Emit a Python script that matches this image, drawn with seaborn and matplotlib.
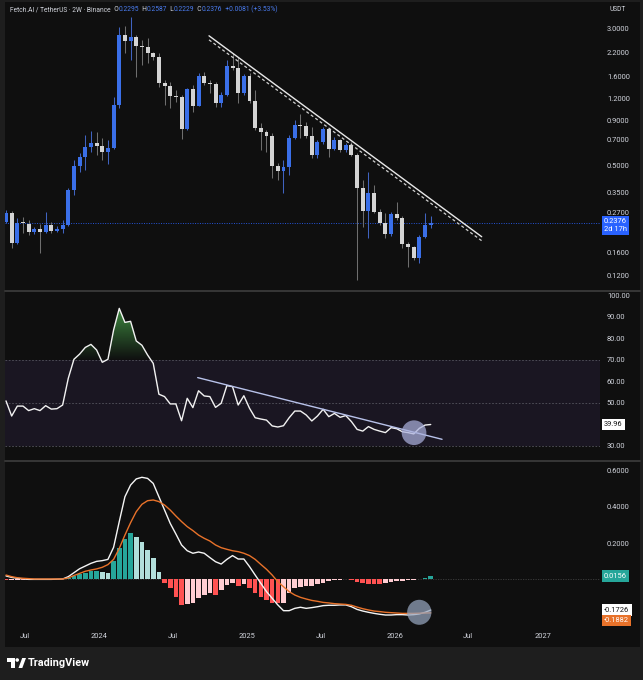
import numpy as np
import pandas as pd
import matplotlib
matplotlib.use("Agg")
import matplotlib.pyplot as plt
import matplotlib.transforms as mtransforms
from matplotlib.patches import Rectangle, Ellipse, PathPatch, Polygon, Circle
from matplotlib.lines import Line2D
from matplotlib.path import Path
from matplotlib.ticker import FixedLocator, NullLocator, FuncFormatter
import seaborn as sns

# ---------------- data ----------------
first_bar = "2023-05-15"
bar_days = 14

open_ = [0.241, 0.271, 0.183, 0.2387, 0.2335, 0.2095, 0.2179, 0.2095, 0.2305, 0.2139,
         0.2179, 0.2305, 0.3639, 0.4975, 0.557, 0.6345, 0.6687, 0.648, 0.5995, 0.629,
         1.0987, 2.75, 2.552, 2.668, 2.391, 2.341, 2.182, 2.054, 1.464, 1.413,
         1.241, 1.229, 0.806, 1.359, 1.093, 1.611, 1.464, 1.454, 1.128, 1.257,
         1.834, 1.793, 1.285, 1.611, 1.162, 0.814, 0.779, 0.739, 0.4995, 0.466,
         0.493, 0.7147, 0.85, 0.839, 0.736, 0.574, 0.678, 0.806, 0.62, 0.699,
         0.615, 0.654, 0.574, 0.375, 0.2778, 0.3485, 0.2742, 0.2357, 0.2041, 0.265,
         0.2515, 0.180, 0.1737, 0.1493, 0.1962, 0.2295]
high = [0.280, 0.275, 0.2525, 0.2568, 0.246, 0.2245, 0.2325, 0.2719, 0.2406, 0.2275,
        0.246, 0.3733, 0.538, 0.587, 0.746, 0.7857, 0.772, 0.7147, 0.699, 1.219,
        3.063, 3.09, 3.48, 2.75, 2.575, 2.633, 2.211, 2.165, 1.528, 1.494,
        1.341, 1.257, 1.377, 1.432, 1.674, 1.703, 1.528, 1.494, 1.306, 1.984,
        2.165, 2.07, 1.653, 1.674, 1.341, 0.869, 0.796, 0.767, 0.515, 0.538,
        0.746, 0.907, 0.977, 0.887, 0.831, 0.699, 0.831, 0.82, 0.726, 0.71,
        0.672, 0.678, 0.589, 0.4146, 0.4616, 0.3884, 0.284, 0.2686, 0.2747, 0.3123,
        0.259, 0.1851, 0.176, 0.2023, 0.2686, 0.2587]
low = [0.236, 0.171, 0.180, 0.2069, 0.2023, 0.205, 0.1605, 0.2075, 0.2069, 0.210,
       0.2069, 0.2275, 0.3408, 0.4616, 0.472, 0.5995, 0.574, 0.538, 0.5106, 0.621,
       1.056, 2.165, 1.984, 1.596, 1.858, 1.90, 1.984, 1.40, 1.103, 1.056,
       1.151, 0.705, 0.796, 1.010, 1.088, 1.432, 1.285, 1.079, 1.079, 1.241,
       1.741, 1.128, 1.257, 1.133, 0.796, 0.613, 0.5995, 0.424, 0.4146, 0.3485,
       0.442, 0.708, 0.7147, 0.715, 0.550, 0.551, 0.663, 0.561, 0.61, 0.597,
       0.597, 0.565, 0.113, 0.2255, 0.1938, 0.27, 0.2305, 0.1938, 0.1997, 0.246,
       0.170, 0.1338, 0.146, 0.140, 0.1946, 0.2229]
close = [0.271, 0.183, 0.2357, 0.2357, 0.2095, 0.2187, 0.2095, 0.2305, 0.2139, 0.2187,
         0.2305, 0.3639, 0.4975, 0.557, 0.6345, 0.6687, 0.648, 0.5995, 0.629, 1.0987,
         2.75, 2.552, 2.668, 2.391, 2.341, 2.182, 2.054, 1.464, 1.413, 1.241,
         1.229, 0.806, 1.359, 1.093, 1.611, 1.464, 1.454, 1.128, 1.257, 1.834,
         1.793, 1.285, 1.611, 1.162, 0.814, 0.779, 0.739, 0.4995, 0.466, 0.493,
         0.7147, 0.85, 0.839, 0.736, 0.574, 0.678, 0.806, 0.62, 0.699, 0.615,
         0.654, 0.574, 0.375, 0.2778, 0.3485, 0.2742, 0.2357, 0.2041, 0.265, 0.2515,
         0.180, 0.1737, 0.1493, 0.1962, 0.2295, 0.2376]

rsi = [50.9, 43.9, 48.5, 48.5, 46.4, 47.3, 46.4, 48.7, 47.1, 47.3,
       49.0, 61.4, 70.2, 72.6, 75.7, 77.1, 74.5, 68.8, 70.2, 83.8,
       93.8, 87.3, 87.8, 78.7, 76.7, 72.2, 68.3, 54.0, 52.9, 49.5,
       49.5, 41.7, 52.1, 47.8, 55.6, 53.2, 52.9, 47.9, 49.8, 58.0,
       57.5, 49.0, 53.3, 47.5, 43.1, 42.5, 42.0, 39.3, 38.8, 39.4,
       43.1, 46.2, 46.2, 44.4, 41.6, 43.9, 47.0, 43.6, 45.1, 43.3,
       44.1, 41.3, 37.7, 36.9, 39.0, 37.7, 36.9, 36.2, 38.5, 38.0,
       36.6, 36.2, 35.6, 38.2, 39.7, 39.96]

macd = [0.017, 0.009, 0.004, 0.000, -0.002, -0.002, -0.002, -0.002, -0.002, -0.001,
        0.000, 0.013, 0.035, 0.057, 0.072, 0.087, 0.098, 0.102, 0.109, 0.176,
        0.319, 0.457, 0.522, 0.556, 0.565, 0.559, 0.531, 0.457, 0.383, 0.309,
        0.250, 0.189, 0.157, 0.143, 0.150, 0.143, 0.119, 0.096, 0.083, 0.109,
        0.130, 0.111, 0.111, 0.069, 0.022, -0.024, -0.070, -0.107, -0.144, -0.176,
        -0.176, -0.163, -0.157, -0.163, -0.159, -0.154, -0.148, -0.146, -0.146, -0.144,
        -0.144, -0.154, -0.169, -0.178, -0.185, -0.191, -0.196, -0.200, -0.200, -0.198,
        -0.198, -0.200, -0.198, -0.194, -0.185, -0.1726]
signal = [0.022, 0.013, 0.007, 0.004, 0.002, 0.000, 0.000, 0.000, 0.000, 0.000,
          0.000, 0.006, 0.019, 0.031, 0.043, 0.050, 0.056, 0.065, 0.080, 0.109,
          0.170, 0.244, 0.313, 0.374, 0.415, 0.435, 0.439, 0.430, 0.411, 0.383,
          0.350, 0.319, 0.291, 0.269, 0.244, 0.226, 0.211, 0.189, 0.174, 0.165,
          0.157, 0.152, 0.143, 0.130, 0.109, 0.081, 0.054, 0.022, -0.015, -0.043,
          -0.070, -0.089, -0.102, -0.111, -0.119, -0.124, -0.130, -0.133, -0.137, -0.139,
          -0.141, -0.146, -0.156, -0.165, -0.172, -0.178, -0.181, -0.185, -0.187, -0.189,
          -0.191, -0.191, -0.191, -0.190, -0.189, -0.1882]
hist = [-0.005, -0.004, -0.003, -0.003, -0.003, -0.002, -0.002, -0.002, -0.002, -0.001,
        0.000, 0.008, 0.018, 0.026, 0.033, 0.042, 0.044, 0.039, 0.034, 0.100,
        0.170, 0.225, 0.254, 0.235, 0.205, 0.160, 0.115, 0.041, -0.020, -0.052,
        -0.098, -0.144, -0.139, -0.131, -0.107, -0.090, -0.080, -0.089, -0.060, -0.035,
        -0.022, -0.039, -0.028, -0.052, -0.080, -0.102, -0.117, -0.131, -0.135, -0.134,
        -0.080, -0.052, -0.043, -0.039, -0.037, -0.030, -0.020, -0.011, -0.006, -0.004,
        -0.002, -0.003, -0.015, -0.024, -0.028, -0.029, -0.029, -0.024, -0.017, -0.013,
        -0.009, -0.007, -0.005, -0.001, 0.006, 0.0156]

price_ticks = [3.0, 2.2, 1.6, 1.2, 0.9, 0.7, 0.5, 0.35, 0.27, 0.16, 0.12]
rsi_ticks = [100, 90, 80, 70, 60, 50, 30]
rsi_levels = [70, 50, 30]
macd_ticks = [0.6, 0.4, 0.2]
time_tick_dates = ["2023-07-01", "2024-01-01", "2024-07-01", "2025-01-01",
                   "2025-07-01", "2026-01-01", "2026-07-01", "2027-01-01"]
time_tick_labels = ["Jul", "2024", "Jul", "2025", "Jul", "2026", "Jul", "2027"]

# drawings (bar index, value)
trend_x = [35.85, 84.0]
trend_solid = [2.72, 0.1978]
trend_dashed = [2.58, 0.1877]
rsi_trend_x = [33.85, 77.0]
rsi_trend_y = [61.7, 33.1]
rsi_mark = (72.05, 36.16)
macd_mark = (72.98, -0.185)

header_title = "Fetch.AI / TetherUS · 2W · Binance"
change_text = "+0.0081 (+3.53%)"
countdown = "2d 17h"

# ---------------- style ----------------
W, H = 643, 680
BG = "#0f0f0f"
OUTER = "#1e1e1e"
TXT = "#d1d4dc"
UP = "#3a6fe8"
DOWN = "#d4d4d4"
BLUE_TXT = "#4a7cf0"

sns.set_theme(style="dark", rc={"axes.facecolor": BG, "figure.facecolor": OUTER,
                                "axes.edgecolor": BG})
plt.rcParams["font.family"] = ["Roboto", "DejaVu Sans"]

fig = plt.figure(figsize=(W / 100, H / 100), dpi=100)
fig.patch.set_facecolor(OUTER)
fig.add_artist(Rectangle((5 / W, 1 - 647 / H), 635 / W, 645 / H,
                         transform=fig.transFigure, fc=BG, ec="none", zorder=-10))


def rect(x0, y0, x1, y1):
    return [x0 / W, 1 - y1 / H, (x1 - x0) / W, (y1 - y0) / H]


ax_p = fig.add_axes(rect(5, 3, 600, 289.5))
ax_r = fig.add_axes(rect(5, 291.5, 600, 459.5), sharex=ax_p)
ax_m = fig.add_axes(rect(5, 461.5, 600, 625), sharex=ax_p)

for yy in (290.5, 460.5):
    fig.add_artist(Line2D([5 / W, 640 / W], [1 - yy / H] * 2, transform=fig.transFigure,
                          color="#3a3a3a", lw=1.3))

n = len(close)
idx = np.arange(n)
o = np.array(open_); c = np.array(close); hi = np.array(high); lo = np.array(low)
up = c >= o

# ---------------- price pane ----------------
ax_p.vlines(idx, lo, hi, colors=np.where(up, "#4063c0", "#6e6e6e"), lw=0.75, zorder=2)
ax_p.bar(idx, np.maximum(o, c) - np.minimum(o, c), bottom=np.minimum(o, c), width=0.7,
         color=np.where(up, UP, DOWN), linewidth=0, zorder=3)
ax_p.set_yscale("log")
ax_p.axhline(c[-1], color="#2962ff", lw=0.7, ls=(0, (1, 1.5)), alpha=0.85, zorder=1)
sns.lineplot(x=trend_x, y=trend_solid, ax=ax_p, color="#e8e8e8", linewidth=1.0, zorder=4)
sns.lineplot(x=trend_x, y=trend_dashed, ax=ax_p, color="#d0d0d0", linewidth=0.9,
             linestyle=(0, (2.4, 2.0)), zorder=4)

# ---------------- RSI pane ----------------
rsi_a = np.array(rsi)
ax_r.axhspan(30, 70, color="#1a1622", zorder=0, lw=0)
for lv in rsi_levels:
    ax_r.axhline(lv, color="#55555f", lw=0.6, ls=(0, (2, 2)), zorder=1)
fb = ax_r.fill_between(idx, 70, rsi_a, where=rsi_a > 70, interpolate=True,
                       facecolor="none", edgecolor="none")
comp = Path.make_compound_path(*fb.get_paths())
clip = PathPatch(comp, transform=ax_r.transData, fc="none", ec="none")
ax_r.add_patch(clip)
vals = np.linspace(100, 70, 256)
grad = np.zeros((256, 1, 4))
grad[..., 0] = 0.30; grad[..., 1] = 0.69; grad[..., 2] = 0.31
grad[..., 3] = (np.clip((vals - 70) / 30, 0, 1) * 0.95)[:, None]
im = ax_r.imshow(grad, extent=[0, n - 1, 70, 100], aspect="auto", origin="upper", zorder=1.5)
im.set_clip_path(clip)
sns.lineplot(x=idx, y=rsi_a, ax=ax_r, color="#f2f2f2", linewidth=1.0, zorder=3)
sns.lineplot(x=rsi_trend_x, y=rsi_trend_y, ax=ax_r, color="#b8c2ea", linewidth=1.0, zorder=4)
ax_r.add_patch(Ellipse(rsi_mark, 4.36, 11.45, fc="#aab0dc", ec="none", alpha=0.72, zorder=5))

# ---------------- MACD pane ----------------
h = np.array(hist)
hcol = []
for i, v in enumerate(h):
    prev = h[i - 1] if i > 0 else v
    if v >= 0:
        hcol.append("#26a69a" if v >= prev else "#b2dfdb")
    else:
        hcol.append("#ff5252" if v <= prev else "#ffcdd2")
ax_m.axhline(0, color="#404040", lw=0.6, ls=(0, (1.5, 1.5)), zorder=1)
ax_m.bar(idx, h, width=0.82, color=hcol, linewidth=0, zorder=2)
sns.lineplot(x=idx, y=macd, ax=ax_m, color="#f5f5f5", linewidth=1.0, zorder=3)
sns.lineplot(x=idx, y=signal, ax=ax_m, color="#e8722a", linewidth=1.0, zorder=3)
ax_m.add_patch(Ellipse(macd_mark, 4.29, 0.139, fc="#97a6bf", ec="none", alpha=0.72, zorder=5))

# ---------------- axes setup ----------------
px_per_bar = 5.663
ax_p.set_xlim(-1 / px_per_bar, (600 - 6) / px_per_bar)


def p_at(y):
    return 10 ** (np.log10(3.0) - (y - 28.3) / 176.5)


ax_p.set_ylim(p_at(289.5), p_at(3))
ax_r.set_ylim(100 - (459.5 - 295) / 2.157, 100 - (291.5 - 295) / 2.157)
ax_m.set_ylim((579 - 625) / 180, (579 - 461.5) / 180)

for ax in (ax_p, ax_r, ax_m):
    ax.set_facecolor(BG)
    for s in ax.spines.values():
        s.set_visible(False)
    ax.yaxis.tick_right()
    ax.tick_params(axis="y", which="both", length=0, pad=5, labelsize=5.4,
                   labelcolor=TXT, right=False, left=False, labelright=True, labelleft=False)
    ax.set_xlabel(""); ax.set_ylabel("")

ax_p.yaxis.set_major_locator(FixedLocator(price_ticks))
ax_p.yaxis.set_minor_locator(NullLocator())
ax_p.yaxis.set_major_formatter(FuncFormatter(lambda v, p: f"{v:.4f}"))
ax_r.yaxis.set_major_locator(FixedLocator(rsi_ticks))
ax_r.yaxis.set_major_formatter(FuncFormatter(lambda v, p: f"{v:.2f}"))
ax_m.yaxis.set_major_locator(FixedLocator(macd_ticks))
ax_m.yaxis.set_major_formatter(FuncFormatter(lambda v, p: f"{v:.4f}"))

t0 = pd.Timestamp(first_bar)
tick_pos = [(pd.Timestamp(d) - t0).days / bar_days for d in time_tick_dates]
ax_m.set_xticks(tick_pos)
ax_m.set_xticklabels(time_tick_labels)
ax_m.tick_params(axis="x", length=0, pad=6, labelsize=5.4, labelcolor=TXT)
for ax in (ax_p, ax_r):
    ax.tick_params(axis="x", length=0, labelbottom=False)

# ---------------- value labels ----------------
def tag(ax, y, text, fc, tc, dy=0.0, va="center"):
    tr = mtransforms.blended_transform_factory(ax.transAxes, ax.transData)
    ax.annotate(text, xy=(1, y), xycoords=tr, xytext=(4, dy), textcoords="offset pixels",
                ha="left", va=va, fontsize=5.4, color=tc, annotation_clip=False,
                linespacing=1.15,
                bbox=dict(boxstyle="square,pad=0.3", fc=fc, ec="none"), zorder=10)


tag(ax_p, c[-1], f"{c[-1]:.4f}\n{countdown}", "#2962ff", "white", dy=4.5, va="top")
tag(ax_r, rsi_a[-1], f"{rsi_a[-1]:.2f}", "white", "#131313")
tag(ax_m, hist[-1], f"{hist[-1]:.4f}", "#26a69a", "white")
tag(ax_m, macd[-1], f"{macd[-1]:.4f}", "white", "#131313")
tag(ax_m, signal[-1], f"{signal[-1]:.4f}", "#e8722a", "white", dy=-7.8)

# ---------------- header ----------------
renderer = fig.canvas.get_renderer()
pieces = [(header_title, TXT), ("  O", TXT), (f"{o[-1]:.4f}", BLUE_TXT),
          ("  H", TXT), (f"{hi[-1]:.4f}", BLUE_TXT), ("  L", TXT), (f"{lo[-1]:.4f}", BLUE_TXT),
          ("  C", TXT), (f"{c[-1]:.4f}", BLUE_TXT), ("  " + change_text, BLUE_TXT)]
x = 10.0
for s, col in pieces:
    t = fig.text(x / W, 1 - 9.5 / H, s, color=col, fontsize=4.8, va="center", ha="left")
    x += t.get_window_extent(renderer=renderer).width
fig.text(609 / W, 1 - 9.5 / H, "USDT", color=TXT, fontsize=4.8, va="center", ha="left")

# ---------------- TradingView mark ----------------
def fp(xp, yp):
    return (xp / W, 1 - yp / H)


fig.add_artist(Polygon([fp(7, 658), fp(14.5, 658), fp(14.5, 668), fp(10.8, 668),
                        fp(10.8, 661.5), fp(7, 661.5)], closed=True,
                       transform=fig.transFigure, fc="white", ec="none"))
fig.add_artist(Ellipse(fp(17.2, 660), 3.6 / W, 3.6 / H, transform=fig.transFigure,
                       fc="white", ec="none"))
fig.add_artist(Polygon([fp(18.5, 668), fp(22.3, 668), fp(26, 658), fp(22.2, 658)], closed=True,
                       transform=fig.transFigure, fc="white", ec="none"))
fig.text(28 / W, 1 - 663 / H, "TradingView", color="white", fontsize=7.8,
         fontweight="bold", va="center", ha="left")

fig.savefig("out.png", dpi=100, facecolor=OUTER)
